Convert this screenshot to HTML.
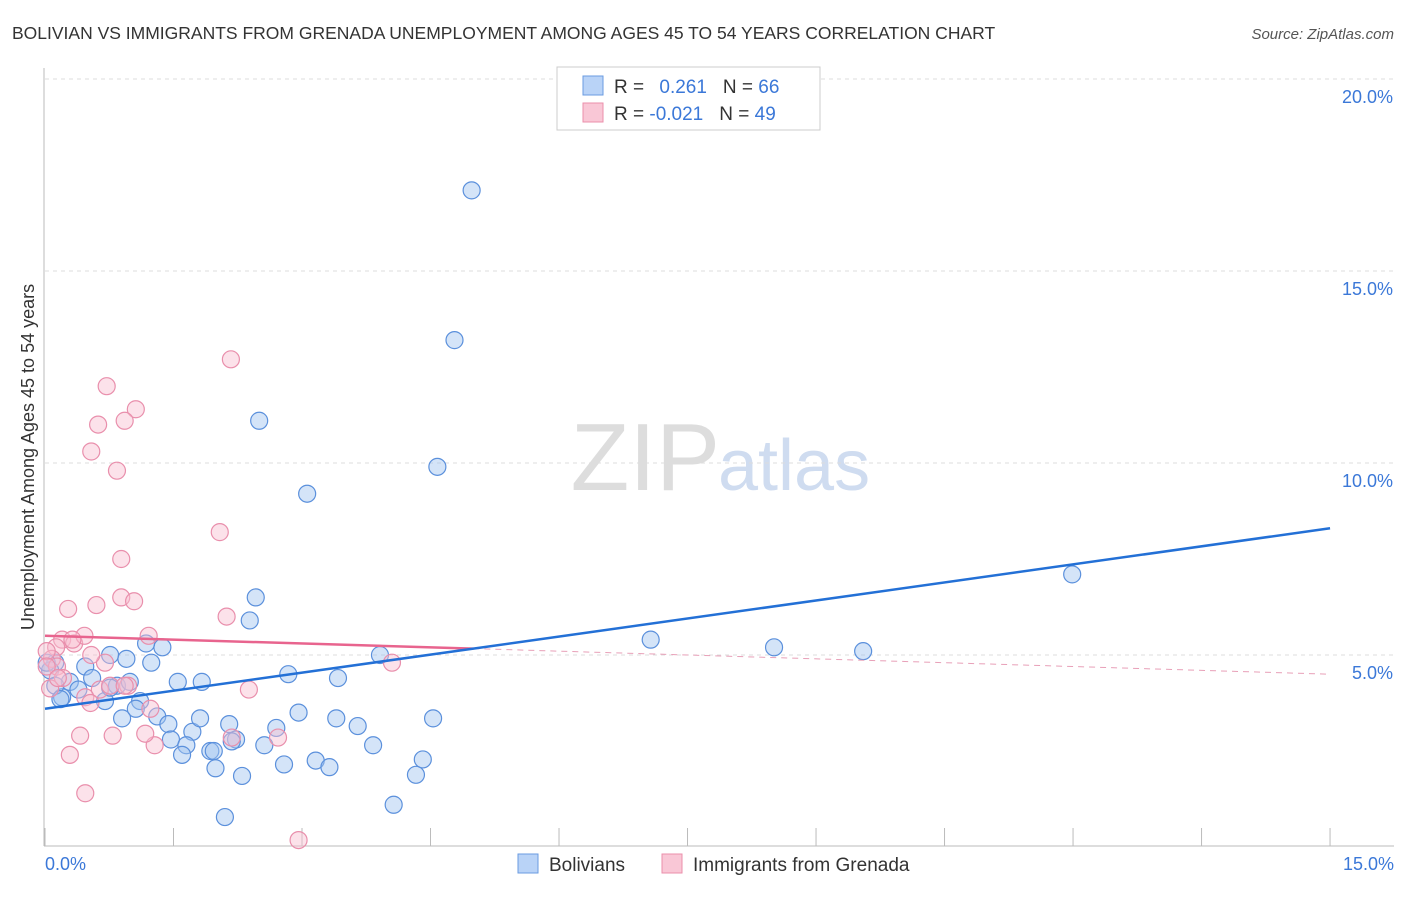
<!DOCTYPE html>
<html><head><meta charset="utf-8"><style>
body{margin:0;background:#fff;font-family:"Liberation Sans",sans-serif;}
svg text{font-family:"Liberation Sans",sans-serif;}
</style></head><body>
<svg id="c" width="1406" height="892" xmlns="http://www.w3.org/2000/svg">
<text x="12" y="39" font-size="17.5" fill="#333">BOLIVIAN VS IMMIGRANTS FROM GRENADA UNEMPLOYMENT AMONG AGES 45 TO 54 YEARS CORRELATION CHART</text>
<text x="1394" y="39" font-size="15" fill="#555" font-style="italic" text-anchor="end">Source: ZipAtlas.com</text>
<text x="720" y="490" font-size="96" fill="#ddd" font-family="Liberation Serif" text-anchor="end">ZIP</text>
<text x="718" y="490" font-size="72" fill="#cfdcf0">atlas</text>
<g id="grid"></g>
<g id="axes"></g>
<g id="marks"></g>
<text transform="translate(34,457) rotate(-90)" font-size="18" fill="#333" text-anchor="middle">Unemployment Among Ages 45 to 54 years</text>
<text x="45" y="870" font-size="18" fill="#3b78d8">0.0%</text>
<text x="1394" y="870" font-size="18" fill="#3b78d8" text-anchor="end">15.0%</text>
<g>
<rect x="557" y="67" width="263" height="63" fill="#fff" stroke="#ccc"/>
<rect x="583" y="76" width="20" height="19" fill="#b9d3f7" stroke="#6a9be0"/>
<rect x="583" y="103" width="20" height="19" fill="#f9c7d6" stroke="#eb8fab"/>
<text x="614" y="93" font-size="19" fill="#333">R = <tspan fill="#3b78d8" dx="10">0.261</tspan><tspan fill="#333" dx="16">N = </tspan><tspan fill="#3b78d8">66</tspan></text>
<text x="614" y="120" font-size="19" fill="#333">R = <tspan fill="#3b78d8">-0.021</tspan><tspan fill="#333" dx="16">N = </tspan><tspan fill="#3b78d8">49</tspan></text>
</g>
<g>
<rect x="518" y="854" width="20" height="19" fill="#b9d3f7" stroke="#6a9be0"/>
<text x="549" y="871" font-size="19" fill="#333">Bolivians</text>
<rect x="662" y="854" width="20" height="19" fill="#f9c7d6" stroke="#eb8fab"/>
<text x="693" y="871" font-size="19" fill="#333">Immigrants from Grenada</text>
</g>
</svg>
<script>
const yTicks=[5,10,15,20];
const yTickLabels=["5.0%","10.0%","15.0%","20.0%"];
const xTicks=[0,1.5,3,4.5,6,7.5,9,10.5,12,13.5,15];
const bolX=[4.98,4.78,2.5,4.58,3.06,11.99,2.46,2.39,7.07,8.51,9.55,3.91,0.76,1.37,1.18,1.24,0.95,0.47,0.12,0.06,0.29,0.55,0.84,0.99,1.55,1.83,2.84,3.42,1.11,0.7,0.2,0.39,0.9,1.06,1.31,1.44,1.72,1.81,2.15,2.96,3.4,4.53,3.65,2.70,1.47,1.65,1.6,2.23,2.18,1.93,1.97,2.56,3.83,1.99,2.3,2.79,3.16,3.32,4.41,4.33,4.07,2.1,0.12,0.02,0.18,0.76];
const bolY=[17.1,13.2,11.1,9.9,9.2,7.1,6.5,5.9,5.4,5.2,5.1,5.0,5.0,5.2,5.3,4.8,4.9,4.7,4.8,4.6,4.3,4.4,4.2,4.3,4.3,4.3,4.5,4.4,3.8,3.8,3.9,4.1,3.35,3.6,3.4,3.2,3.0,3.35,3.2,3.5,3.35,3.35,3.15,3.1,2.8,2.65,2.4,2.8,2.75,2.5,2.5,2.65,2.65,2.05,1.85,2.15,2.25,2.08,2.28,1.88,1.1,0.78,4.2,4.8,3.85,4.15];
const grnX=[2.17,0.72,1.06,0.62,0.93,0.54,0.84,2.04,0.89,0.89,1.04,0.27,0.6,2.12,1.21,0.2,0.34,0.46,0.32,0.13,0.08,0.02,0.14,0.21,0.64,0.76,0.47,0.97,0.7,0.54,2.38,0.93,2.18,2.72,0.41,0.29,0.79,1.28,1.17,4.05,0.47,2.96,0.06,0.53,0.02,0.15,1.23];
const grnY=[12.7,12.0,11.4,11.0,11.1,10.3,9.8,8.2,7.5,6.5,6.4,6.2,6.3,6.0,5.5,5.4,5.3,5.5,5.4,5.2,4.9,5.1,4.7,4.4,4.1,4.2,3.9,4.2,4.8,5.0,4.1,4.2,2.85,2.85,2.9,2.4,2.9,2.65,2.95,4.8,1.4,0.18,4.13,3.75,4.7,4.4,3.6];
const bolTrend=[3.6,8.3];
const grnTrend=[5.5,4.5];
const X=v=>45+v*85.67, Y=v=>847-v*38.4;
const NS="http://www.w3.org/2000/svg";
function mk(t,a,p){const e=document.createElementNS(NS,t);for(const k in a)e.setAttribute(k,a[k]);p.appendChild(e);return e;}
const grid=document.getElementById('grid'),axes=document.getElementById('axes'),marks=document.getElementById('marks');
yTicks.forEach((v,i)=>{
 const l=mk('line',{x1:45,x2:1394,y1:Y(v),y2:Y(v),stroke:'#ddd','stroke-dasharray':'4,4'},grid);
 
 
 const t=mk('text',{x:1393,y:Y(v)+24,'font-size':18,fill:'#3b78d8','text-anchor':'end'},grid);
 t.textContent=yTickLabels[i];
 
 
});
const xa=mk('line',{x1:44,x2:1394,y1:846,y2:846,stroke:'#bbb'},axes);


const ya=mk('line',{x1:44,x2:44,y1:68,y2:846,stroke:'#bbb'},axes);


xTicks.forEach(v=>{
 const t=mk('line',{x1:X(v),x2:X(v),y1:828,y2:846,stroke:'#bbb'},axes);
 
 
});
bolX.forEach((v,i)=>{
 const c=mk('circle',{cx:X(v),cy:Y(bolY[i]),r:8.5,fill:'rgba(160,196,240,0.45)',stroke:'#5b90dc','stroke-width':1.2},marks);
 
 
});
grnX.forEach((v,i)=>{
 const c=mk('circle',{cx:X(v),cy:Y(grnY[i]),r:8.5,fill:'rgba(248,190,208,0.45)',stroke:'#e98fac','stroke-width':1.2},marks);
 
 
});
const gy=x=>grnTrend[0]+(grnTrend[1]-grnTrend[0])*x/15;
const g1=mk('line',{x1:X(0),y1:Y(gy(0)),x2:X(5),y2:Y(gy(5)),stroke:'#e8648e','stroke-width':2.5},marks);


const g2=mk('line',{x1:X(5),y1:Y(gy(5)),x2:X(15),y2:Y(gy(15)),stroke:'#e8a0b8','stroke-width':1,'stroke-dasharray':'6,5'},marks);


const b1=mk('line',{x1:X(0),y1:Y(bolTrend[0]),x2:X(15),y2:Y(bolTrend[1]),stroke:'#2370d6','stroke-width':2.5},marks);


</script>
</body></html>
